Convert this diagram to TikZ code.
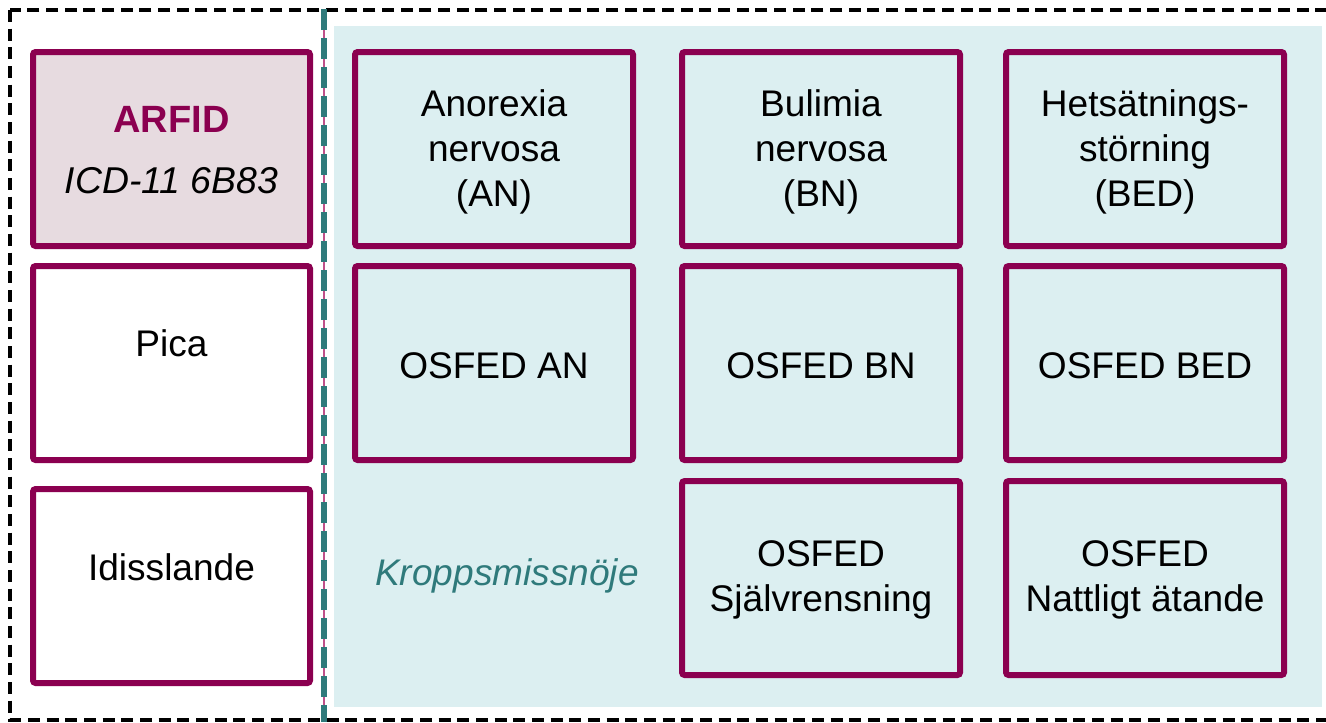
\documentclass[tikz,border=0pt]{standalone}
\usepackage{fontspec}
\setmainfont{Liberation Sans}
\usetikzlibrary{calc}
\definecolor{plum}{HTML}{8B0050}
\definecolor{tealdark}{HTML}{2F7A7B}
\definecolor{tealpale}{HTML}{DCEFF1}
\definecolor{rosepale}{HTML}{E7DBE0}
\definecolor{pinkline}{HTML}{C0508A}
\tikzset{
  diagbox/.style={draw=plum, line width=4.5pt, rounded corners=2pt,
    minimum width=208.5pt, minimum height=145.5pt, inner sep=0pt, outer sep=0pt},
  boxtext/.style={align=center, font=\fontsize{27.8}{33.5}\selectfont, inner sep=0pt},
  outerframe/.style={draw=black, line width=2.6pt, dash pattern=on 9pt off 5pt},
  divider/.style={draw=tealdark, line width=5.2pt, dash pattern=on 15.75pt off 6pt},
}
\begin{document}
\begin{tikzpicture}[x=0.75pt, y=-0.75pt]
  \clip (0,0) rectangle (1326,722);
  \fill[white] (0,0) rectangle (1326,722);
  % pale panel for the right-hand group
  \fill[tealpale] (334,26) rectangle (1322,707);
  % dashed outer frame
  \draw[outerframe] (10,10) rectangle (1340,720);
  % dividing line between the groups
  \coordinate (divtop) at (324,9);
  \coordinate (divbot) at (324,722);
  \draw[pinkline, line width=0.8pt] (divtop) -- (divbot);
  \draw[divider] (divtop) -- (divbot);

  % left column
  \node[diagbox, fill=rosepale, minimum width=207.75pt] (arfid) at (171.5,149) {};
  \node[boxtext, font=\fontsize{28.5}{32}\selectfont\bfseries, text=plum] (arfidname) at (171.5,119) {ARFID};
  \node[boxtext, font=\fontsize{28}{32}\selectfont\itshape] (arfidcode) at (171.5,181) {ICD-11 6B83};

  \node[diagbox, fill=white, minimum width=207.75pt] (pica) at (171.5,363) {};
  \node[boxtext] (picatext) at (171.5,343) {Pica};

  \node[diagbox, fill=white, minimum width=207.75pt] (idiss) at (171.5,586) {};
  \node[boxtext] (idisstext) at (171.5,567) {Idisslande};

  % main diagnoses
  \node[diagbox] (an)  at (494,149)  {};
  \node[diagbox] (bn)  at (821,149)  {};
  \node[diagbox] (bed) at (1145,149) {};
  \node[boxtext] (antext)  at (494,152)  {Anorexia\\nervosa\\(AN)};
  \node[boxtext] (bntext)  at (821,152)  {Bulimia\\nervosa\\(BN)};
  \node[boxtext] (bedtext) at (1145,152) {Hetsätnings-\\störning\\(BED)};

  % OSFED variants
  \node[diagbox] (osan)  at (494,363)  {};
  \node[diagbox] (osbn)  at (821,363)  {};
  \node[diagbox] (osbed) at (1145,363) {};
  \node[diagbox] (ospurge) at (821,578)  {};
  \node[diagbox] (osnight) at (1145,578) {};
  \node[boxtext] (osantext)  at (494,366)  {OSFED AN};
  \node[boxtext] (osbntext)  at (821,366)  {OSFED BN};
  \node[boxtext] (osbedtext) at (1145,366) {OSFED BED};
  \node[boxtext] (ospurgetext) at (821,580)  {OSFED\\Självrensning};
  \node[boxtext] (osnighttext) at (1145,580) {OSFED\\Nattligt ätande};

  \node[boxtext, font=\fontsize{27.8}{32}\selectfont\itshape, text=tealdark] (body) at (507,576) {Kroppsmissnöje};
\end{tikzpicture}
\end{document}
